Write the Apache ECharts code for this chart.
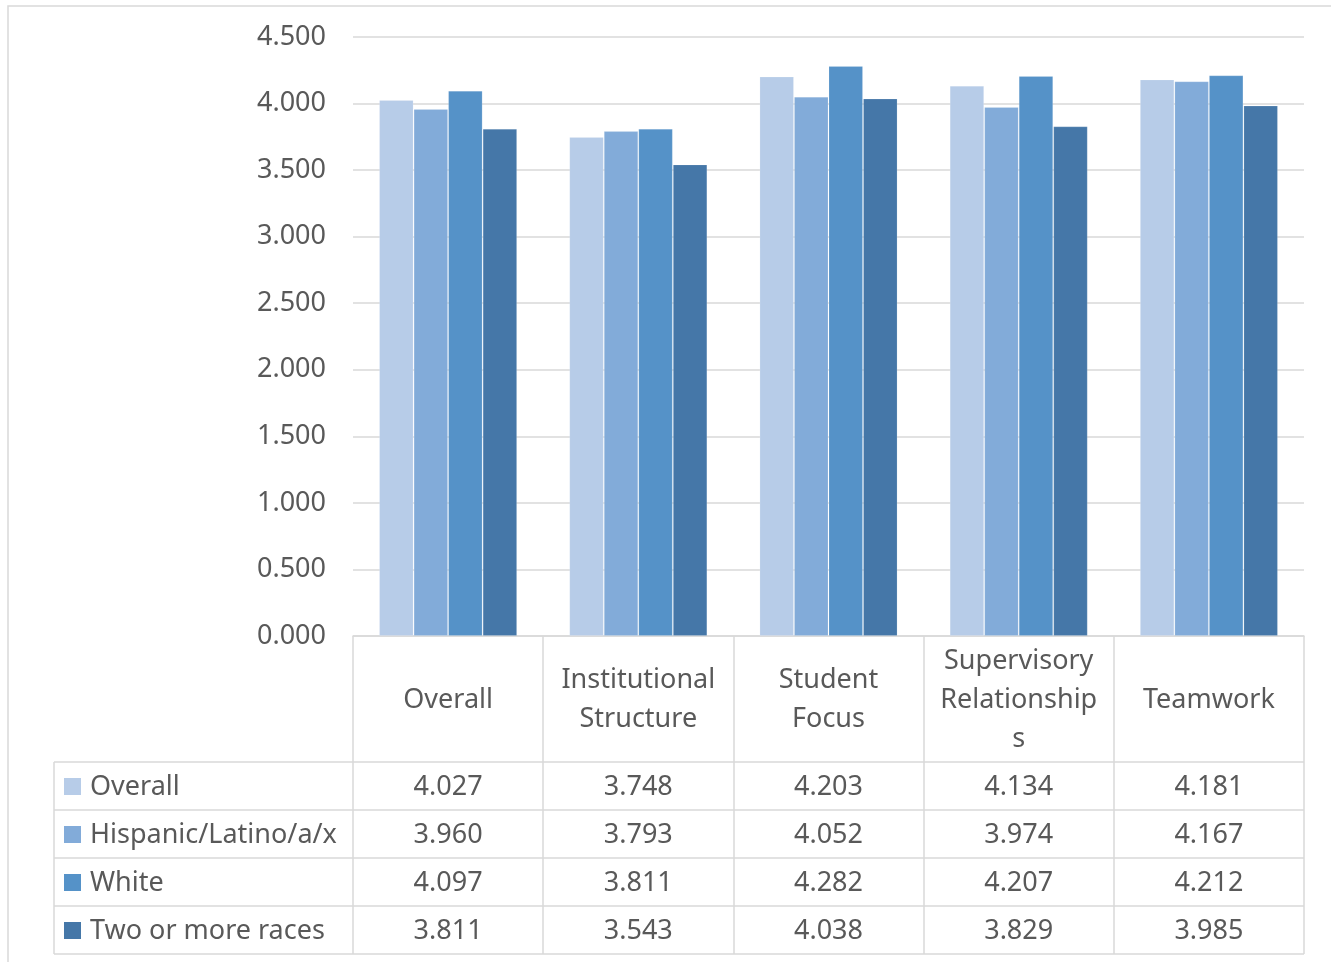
<!DOCTYPE html>
<html>
<head>
<meta charset="utf-8">
<script src="https://cdn.jsdelivr.net/npm/echarts@6/dist/echarts.min.js"></script>
<style>html,body{margin:0;padding:0;background:#fff;}#c{width:1331px;height:962px;}</style>
</head>
<body>
<div id="c"></div>
<script>
const categories = ['Overall', 'Institutional Structure', 'Student Focus', 'Supervisory Relationships', 'Teamwork'];
const categoryTickLabels = ['Overall', 'Institutional\nStructure', 'Student\nFocus', 'Supervisory\nRelationship\ns', 'Teamwork'];
const seriesNames = ['Overall', 'Hispanic/Latino/a/x', 'White', 'Two or more races'];
const overallValues = [4.027, 3.748, 4.203, 4.134, 4.181];
const hispanicValues = [3.960, 3.793, 4.052, 3.974, 4.167];
const whiteValues = [4.097, 3.811, 4.282, 4.207, 4.212];
const twoOrMoreValues = [3.811, 3.543, 4.038, 3.829, 3.985];
const yTicks = [0, 0.5, 1, 1.5, 2, 2.5, 3, 3.5, 4, 4.5];

const seriesValues = [overallValues, hispanicValues, whiteValues, twoOrMoreValues];
const colors = ['#B7CCE8', '#82ABD9', '#5592C8', '#4577A8'];
const FONT = 'Noto Sans';
const TXT = '#595959';
const LINE = '#D9D9D9';
const FS = 27;

const gridLeft = 353, gridRight = 1331 - 1304, gridTop = 37, gridBottom = 962 - 636;
const axisY = 636;
const rowTop = 762, rowH = 48, tableLeft = 54, tableRight = 1304;

const chart = echarts.init(document.getElementById('c'), null, {renderer: 'canvas'});

const option = {
  animation: false,
  backgroundColor: '#fff',
  textStyle: {fontFamily: FONT},
  grid: {left: gridLeft, right: gridRight, top: gridTop, bottom: gridBottom, containLabel: false},
  xAxis: {
    type: 'category',
    data: categories,
    axisLine: {show: true, lineStyle: {color: LINE, width: 1.5}},
    axisTick: {show: true, inside: false, length: (rowTop + rowH * 4) - axisY, lineStyle: {color: LINE, width: 1.5}},
    axisLabel: {
      interval: 0,
      margin: 64,
      verticalAlign: 'middle',
      color: TXT,
      fontFamily: FONT,
      fontSize: FS,
      lineHeight: 39,
      formatter: (v, i) => categoryTickLabels[i]
    },
    splitLine: {show: false}
  },
  yAxis: {
    type: 'value',
    min: yTicks[0],
    max: yTicks[yTicks.length - 1],
    interval: yTicks[1] - yTicks[0],
    axisLine: {show: false},
    axisTick: {show: false},
    axisLabel: {margin: 27, color: TXT, fontFamily: FONT, fontSize: FS, formatter: v => v.toFixed(3)},
    splitLine: {lineStyle: {color: LINE, width: 1.5}}
  },
  series: seriesNames.map((name, i) => ({
    name,
    type: 'bar',
    data: seriesValues[i],
    barGap: '0%',
    barCategoryGap: '27.4%',
    itemStyle: {color: colors[i], borderColor: 'rgba(255,255,255,0.15)', borderWidth: 1}
  }))
};

// data table drawn from the arrays
const colW = (1331 - gridLeft - gridRight) / categories.length;
const graphics = [];
graphics.push({type: 'rect', shape: {x: 8, y: 6, width: 1400, height: 1000}, style: {fill: null, stroke: LINE, lineWidth: 1.5}, z: -1});
for (let r = 0; r <= seriesNames.length; r++) {
  const y = rowTop + r * rowH;
  graphics.push({type: 'line', shape: {x1: tableLeft, y1: y, x2: tableRight, y2: y}, style: {stroke: LINE, lineWidth: 1.5}});
}
graphics.push({type: 'line', shape: {x1: tableLeft, y1: rowTop, x2: tableLeft, y2: rowTop + rowH * seriesNames.length}, style: {stroke: LINE, lineWidth: 1.5}});
seriesNames.forEach((name, r) => {
  const cy = rowTop + r * rowH + rowH / 2 + 1;
  graphics.push({type: 'rect', shape: {x: 64, y: cy - 9, width: 17, height: 17}, style: {fill: colors[r]}});
  graphics.push({type: 'text', x: 90, y: cy, style: {text: name, fill: TXT, font: FS + 'px "' + FONT + '"', textVerticalAlign: 'middle', textAlign: 'left'}});
  seriesValues[r].forEach((v, c) => {
    graphics.push({type: 'text', x: gridLeft + colW * (c + 0.5), y: cy, style: {text: v.toFixed(3), fill: TXT, font: FS + 'px "' + FONT + '"', textVerticalAlign: 'middle', textAlign: 'center'}});
  });
});
option.graphic = graphics;
chart.setOption(option);
</script>
</body>
</html>
